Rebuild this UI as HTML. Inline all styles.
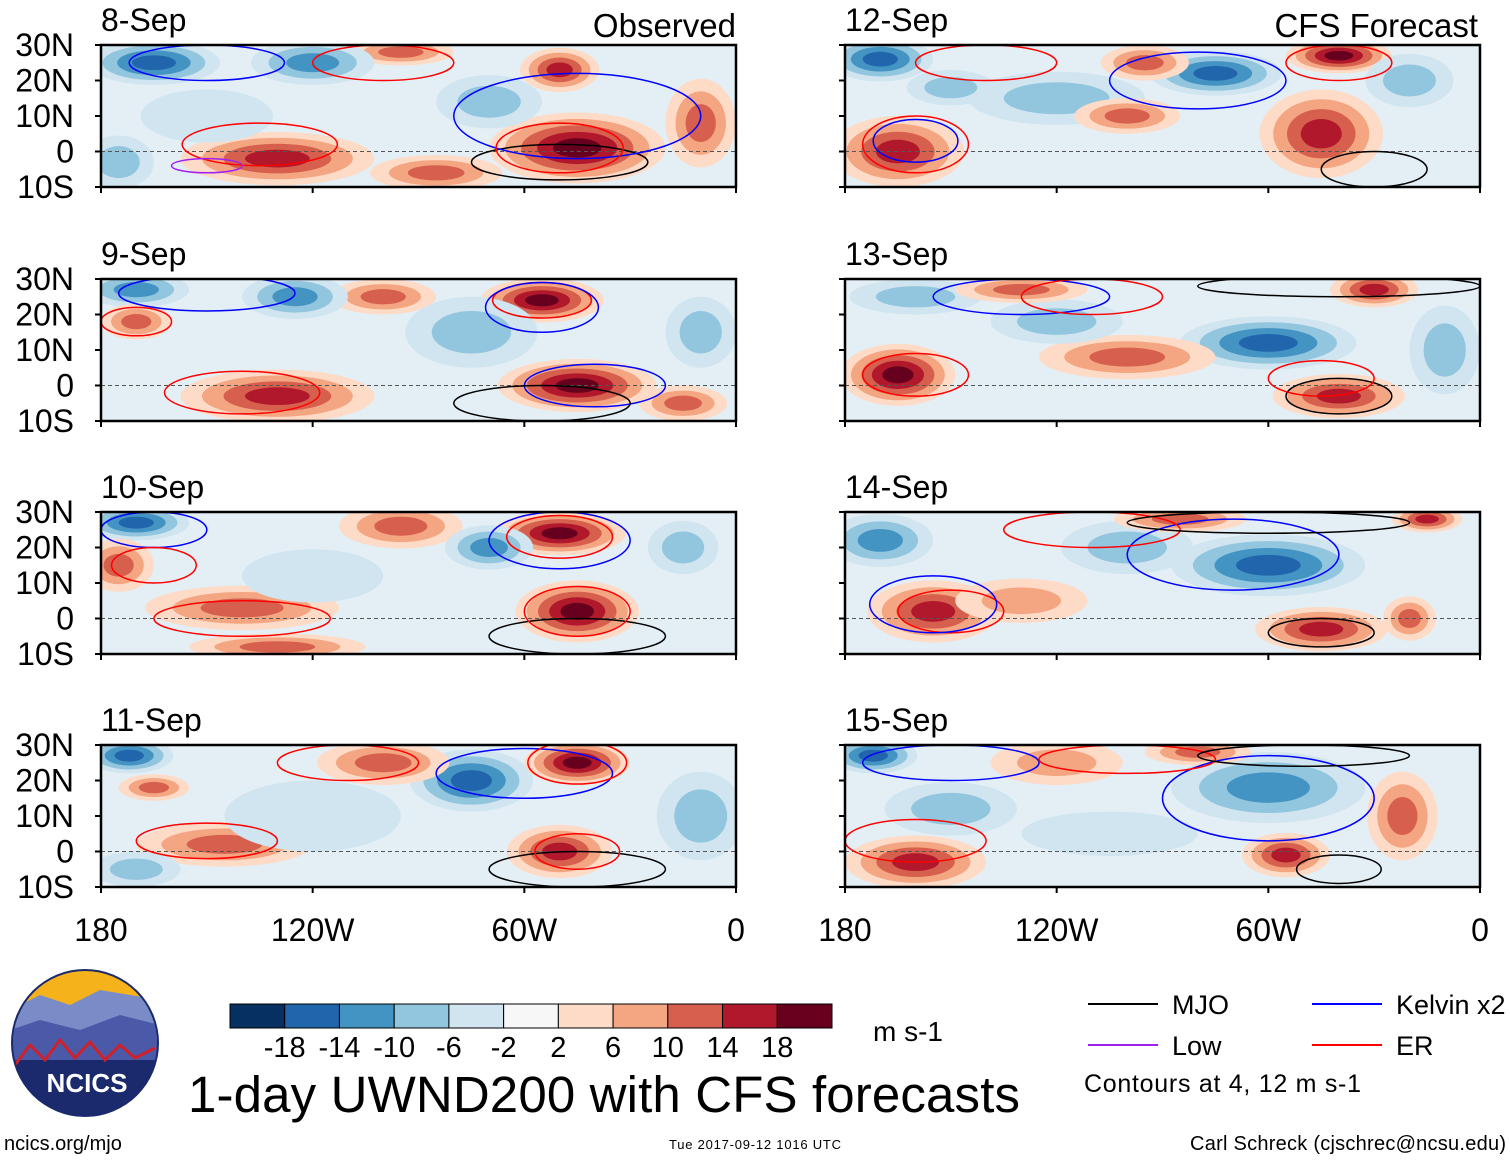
<!DOCTYPE html>
<html><head><meta charset="utf-8">
<style>
body{margin:0;background:#fff;width:1510px;height:1159px;overflow:hidden;font-family:"Liberation Sans",sans-serif}
svg text{font-family:"Liberation Sans",sans-serif}
</style></head>
<body>
<svg id="chart" width="1510" height="1159" xmlns="http://www.w3.org/2000/svg"></svg>
<script>
// ---- data ----
const levelColors=["#053061","#2166ac","#4393c3","#92c5de","#d1e5f0","#f7f7f7","#fddbc7","#f4a582","#d6604d","#b2182b","#67001f"];
const levelLabels=["-18","-14","-10","-6","-2","2","6","10","14","18"];
const panelDates=["8-Sep","9-Sep","10-Sep","11-Sep","12-Sep","13-Sep","14-Sep","15-Sep"];
const latTicks=["30N","20N","10N","0","10S"];
const latValues=[30,20,10,0,-10];
const lonTicks=["180","120W","60W","0"];
const lonValues=[-180,-120,-60,0];
// blobs: [lon, lat, rxDeg, ryDeg, level(-5..5)]
const blobs0=[[-165,25,15,5,-4],[-130,-2,22,6,4],[-45,1,20,8,5],[-50,23,9,5,4],[-95,28,12,3,3],[-120,25,14,5,-3],[-70,14,12,6,-2],[-10,8,8,10,3],[-175,-3,8,6,-2],[-85,-6,15,4,3],[-150,10,15,6,-1]];
const blobs1=[[-170,27,12,4,-3],[-130,-3,22,6,4],[-45,0,18,6,5],[-55,24,14,5,5],[-100,25,12,4,3],[-125,25,12,5,-3],[-75,15,15,8,-2],[-170,18,8,4,3],[-10,15,8,8,-2],[-15,-5,10,4,3]];
const blobs2=[[-170,27,12,4,-4],[-140,3,22,5,3],[-45,2,14,7,5],[-50,24,15,5,5],[-95,26,14,5,3],[-70,20,10,5,-3],[-175,15,8,6,3],[-120,12,16,6,-1],[-15,20,8,6,-2],[-130,-8,20,3,3]];
const blobs3=[[-172,27,10,4,-4],[-165,18,8,3,3],[-145,2,20,5,3],[-75,20,14,7,-4],[-45,25,12,5,5],[-100,25,15,5,3],[-50,0,12,6,4],[-10,10,10,10,-2],[-120,10,20,8,-1],[-170,-5,10,4,-2]];
const blobs4=[[-170,26,12,5,-4],[-165,0,15,8,4],[-45,5,14,10,4],[-40,27,12,4,5],[-75,22,15,5,-4],[-120,15,20,6,-2],[-95,25,10,4,3],[-100,10,12,4,3],[-20,20,10,6,-2],[-150,18,10,4,-2]];
const blobs5=[[-165,3,13,7,5],[-160,25,15,4,-2],[-40,-3,15,5,4],[-60,12,20,6,-4],[-100,8,20,5,3],[-30,27,10,4,4],[-120,18,15,5,-2],[-130,27,15,3,3],[-10,10,8,10,-2]];
const blobs6=[[-155,2,15,7,4],[-60,15,22,7,-4],[-45,-3,15,5,4],[-15,28,8,3,4],[-20,0,6,5,3],[-170,22,12,6,-3],[-100,20,15,6,-2],[-130,5,15,5,2],[-85,28,15,3,3]];
const blobs7=[[-172,27,10,4,-4],[-160,-3,16,6,4],[-60,18,22,8,-3],[-55,-1,10,5,4],[-22,10,8,10,3],[-120,25,15,5,2],[-80,28,12,3,3],[-150,12,15,6,-2],[-105,5,20,5,-1]];
const blobSets=[blobs0,blobs1,blobs2,blobs3,blobs4,blobs5,blobs6,blobs7];
// contours: [type, lon, lat, rxDeg, ryDeg]
const contourTypes={mjo:"#000",kelvin:"#0000ff",low:"#a020f0",er:"#ff0000"};
const contours=[
 [["kelvin",-150,25,22,5],["er",-135,2,22,6],["low",-150,-4,10,2],["mjo",-50,-3,25,5],["kelvin",-45,10,35,12],["er",-50,1,18,7],["er",-100,25,20,5]],
 [["kelvin",-150,26,25,5],["er",-140,-2,22,6],["er",-55,24,14,5],["kelvin",-55,22,16,7],["kelvin",-40,0,20,6],["mjo",-55,-5,25,5],["er",-170,18,10,4]],
 [["kelvin",-165,25,15,5],["er",-140,0,25,5],["er",-50,23,15,6],["kelvin",-50,22,20,8],["mjo",-45,-5,25,5],["er",-45,2,15,7],["er",-165,15,12,5]],
 [["er",-150,3,20,5],["er",-110,25,20,5],["kelvin",-60,22,25,7],["er",-45,25,14,6],["mjo",-45,-5,25,5],["er",-45,0,12,5]],
 [["er",-160,2,15,8],["kelvin",-160,3,12,6],["er",-140,25,20,5],["kelvin",-80,20,25,8],["er",-40,25,15,5],["mjo",-30,-5,15,5]],
 [["er",-160,3,15,6],["kelvin",-130,25,25,5],["er",-110,25,20,5],["mjo",-40,-3,15,5],["er",-45,2,15,5],["mjo",-40,28,40,3]],
 [["er",-150,2,15,6],["kelvin",-155,4,18,8],["kelvin",-70,18,30,10],["er",-110,25,25,5],["mjo",-45,-4,15,4],["mjo",-60,27,40,3]],
 [["er",-160,3,20,6],["kelvin",-150,25,25,5],["kelvin",-60,15,30,12],["er",-100,26,25,4],["mjo",-40,-5,12,4],["mjo",-50,27,30,3]]
];
// ---- drawing ----
const svg=document.getElementById('chart');
const NS="http://www.w3.org/2000/svg";
function mk(tag,attrs,parent){const e=document.createElementNS(NS,tag);for(const k in attrs)e.setAttribute(k,attrs[k]);(parent||svg).appendChild(e);return e;}
const colX=[101,845], rowY=[45,279,512,745], PW=635, PH=142;
function xScale(px,lon){return px+(lon+180)/180*PW;}
function yScale(py,lat){return py+(30-lat)/40*PH;}
function lvlColor(l){return levelColors[5+l];}
for(let p=0;p<8;p++){
  const px=colX[p<4?0:1], py=rowY[p%4];
  const g=mk('g',{});
  
  
  const cid='clip'+p;
  const cp=mk('clipPath',{id:cid},g);mk('rect',{x:px,y:py,width:PW,height:PH},cp);
  const inner=mk('g',{'clip-path':'url(#'+cid+')'},g);
  mk('rect',{x:px,y:py,width:PW,height:PH,fill:"#e4eff5"},inner);
  for(const b of blobSets[p]){
    const [lon,lat,rx,ry,lv]=b, n=Math.abs(lv), s=Math.sign(lv);
    for(let k=1;k<=n;k++){
      const f=1.25*(1-(k-1)/(n+0.5));
      const e=mk('ellipse',{cx:xScale(px,lon),cy:yScale(py,lat),rx:rx*f*PW/180,ry:ry*f*PH/40,fill:lvlColor(s*k)},inner);
      
      
    }
  }
  mk('line',{x1:px,x2:px+PW,y1:yScale(py,0),y2:yScale(py,0),stroke:"#555","stroke-dasharray":"4,3","stroke-width":1},inner);
  for(const c of contours[p]){
    const [t,lon,lat,rx,ry]=c;
    const e=mk('ellipse',{cx:xScale(px,lon),cy:yScale(py,lat),rx:rx*PW/180,ry:ry*PH/40,fill:"none",stroke:contourTypes[t],"stroke-width":1.5},inner);
    
    
  }
  mk('rect',{x:px,y:py,width:PW,height:PH,fill:"none",stroke:"#000","stroke-width":2.5},g);
  const tt=mk('text',{x:px,y:py-14,'font-size':32,fill:"#000"},g);tt.textContent=panelDates[p];
  
  for(let i=0;i<latValues.length;i++){
    const y=yScale(py,latValues[i]);
    mk('line',{x1:px,x2:px-6,y1:y,y2:y,stroke:"#000","stroke-width":2},g);
    if(p<4){const t=mk('text',{x:74,y:y+11,'font-size':32,'text-anchor':'end'},g);t.textContent=latTicks[i];
      }
  }
  for(let i=0;i<lonValues.length;i++){
    const x=xScale(px,lonValues[i]);
    mk('line',{x1:x,x2:x,y1:py+PH,y2:py+PH+6,stroke:"#000","stroke-width":2},g);
    if(p%4===3){const t=mk('text',{x:x,y:941,'font-size':32,'text-anchor':'middle'},g);t.textContent=lonTicks[i];
      }
  }
}
function txt(x,y,s,str,anchor,name){const t=mk('text',{x:x,y:y,'font-size':s,'text-anchor':anchor||'start'});t.textContent=str;
  return t;}
txt(736,37,33,"Observed","end","observed-label");
txt(1478,37,33,"CFS Forecast","end","forecast-label");
// colorbar
const cbX=230,cbW=602/11;
for(let i=0;i<11;i++){const r=mk('rect',{x:cbX+i*cbW,y:1004,width:cbW,height:24,fill:levelColors[i],stroke:"#000","stroke-width":1});
  }
for(let i=0;i<levelLabels.length;i++)txt(cbX+(i+1)*cbW,1057,29,levelLabels[i],"middle","colorbar-label");
txt(873,1041,28,"m s-1","start","colorbar-units");
const mt=txt(188,1112,51,"1-day UWND200 with CFS forecasts","start","main-title");
mt.setAttribute('textLength','832');
// legend
const leg=[["MJO","#000",1088,1004],["Kelvin x2","#0000ff",1312,1004],["Low","#a020f0",1088,1045],["ER","#ff0000",1312,1045]];
for(const l of leg){mk('line',{x1:l[2],x2:l[2]+70,y1:l[3],y2:l[3],stroke:l[1],"stroke-width":2});txt(l[2]+84,l[3]+10,27,l[0],"start","legend-entry");}
const cn=txt(1084,1092,25,"Contours at 4, 12 m s-1","start","contour-note");cn.setAttribute('textLength','277');
txt(4,1150,20,"ncics.org/mjo","start","footer-url");
const ts=txt(755,1149,13,"Tue 2017-09-12 1016 UTC","middle","timestamp");ts.setAttribute('textLength','172');
const au=txt(1506,1150,20,"Carl Schreck (cjschrec@ncsu.edu)","end","author");au.setAttribute('textLength','316');
// logo
const lg=mk('g',{});
mk('circle',{cx:85,cy:1043,r:74,fill:"#1a2a6c"},lg);
const lcp=mk('clipPath',{id:'lc'},lg);mk('circle',{cx:85,cy:1043,r:72},lcp);
const li=mk('g',{'clip-path':'url(#lc)'},lg);
mk('rect',{x:10,y:968,width:150,height:40,fill:"#f5b21a"},li);
mk('path',{d:"M10 1010 L40 995 L70 1005 L100 990 L160 1000 L160 1040 L10 1040Z",fill:"#7a8cc8"},li);
mk('path',{d:"M10 1030 L40 1020 L80 1030 L120 1015 L160 1025 L160 1060 L10 1060Z",fill:"#4a5aa8"},li);
mk('path',{d:"M15 1065 L30 1045 L45 1060 L60 1040 L75 1058 L90 1042 L105 1060 L120 1045 L135 1058 L155 1048",fill:"none",stroke:"#d0202a","stroke-width":3},li);
const lt=mk('text',{x:87,y:1092,'font-size':26,'font-weight':'bold',fill:"#fff",'text-anchor':'middle'},lg);lt.textContent="NCICS";
</script>
</body></html>
